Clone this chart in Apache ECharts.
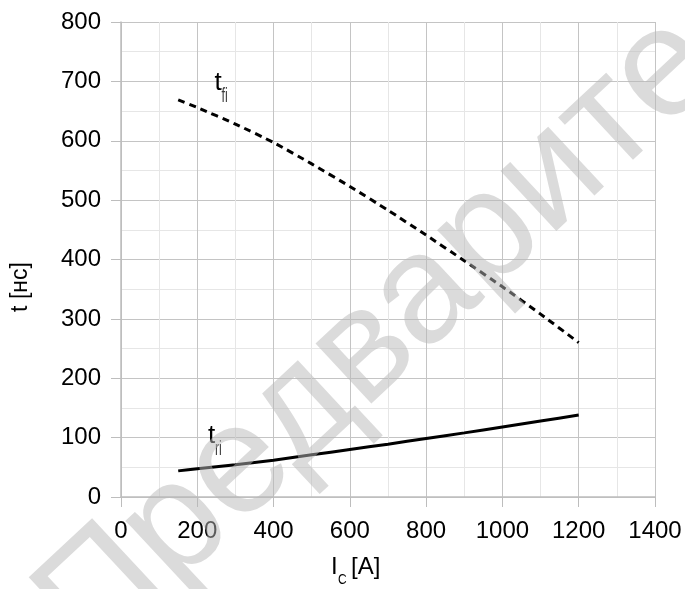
<!DOCTYPE html>
<html>
<head>
<meta charset="utf-8">
<script src="https://cdn.jsdelivr.net/npm/echarts@6/dist/echarts.min.js"></script>
<style>
html,body{margin:0;padding:0;background:#fff;}
#c{width:685px;height:589px;}
</style>
</head>
<body>
<div id="c"></div>
<script>
// Collector current I_C [A]
var currents = [150, 200, 300, 400, 500, 600, 700, 800, 900, 1000, 1100, 1200];
// fall time t_fi [ns] (dashed)
var tFi = [669, 656, 628, 597, 561, 523, 483, 441, 398, 354, 308, 260];
// rise time t_ri [ns] (solid)
var tRi = [44, 47.5, 54.5, 62, 71, 80, 89, 98.5, 108, 118, 128, 138];
var xTicks = [0, 200, 400, 600, 800, 1000, 1200, 1400];
var yTicks = [0, 100, 200, 300, 400, 500, 600, 700, 800];
var seriesNames = ['t_fi', 't_ri'];
var watermarkText = 'Предварительный просмотр';

var FONT = '"Liberation Sans", Arial, sans-serif';
var chart = echarts.init(document.getElementById('c'), null, {renderer: 'canvas'});

function pairs(xs, ys) { return xs.map(function (x, i) { return [x, ys[i]]; }); }
function plain(v) { return String(v); }

var axisGray = '#bdbdbd';
chart.setOption({
  animation: false,
  backgroundColor: '#ffffff',
  grid: {left: 121, right: 30, top: 22, bottom: 92, containLabel: false},
  xAxis: {
    type: 'value', min: xTicks[0], max: xTicks[xTicks.length - 1], interval: 200,
    axisLine: {show: true, lineStyle: {color: axisGray, width: 1.5}},
    axisTick: {show: true, length: 10, lineStyle: {color: axisGray, width: 1}},
    axisLabel: {color: '#000', fontSize: 24, fontFamily: FONT, margin: 22, formatter: plain},
    splitLine: {show: true, lineStyle: {color: '#c4c4c4', width: 1}},
    minorTick: {show: false, splitNumber: 2},
    minorSplitLine: {show: true, lineStyle: {color: '#e6e6e6', width: 1}}
  },
  yAxis: {
    type: 'value', min: yTicks[0], max: yTicks[yTicks.length - 1], interval: 100,
    axisLine: {show: true, lineStyle: {color: axisGray, width: 1.5}},
    axisTick: {show: true, length: 10, lineStyle: {color: axisGray, width: 1}},
    axisLabel: {color: '#000', fontSize: 24, fontFamily: FONT, margin: 20, formatter: plain},
    splitLine: {show: true, lineStyle: {color: '#c4c4c4', width: 1}},
    minorTick: {show: false, splitNumber: 2},
    minorSplitLine: {show: true, lineStyle: {color: '#e6e6e6', width: 1}}
  },
  series: [
    {
      name: seriesNames[0], type: 'line', data: pairs(currents, tFi),
      showSymbol: false, smooth: 0.2,
      lineStyle: {color: '#000', width: 3, type: [7, 5]}
    },
    {
      name: seriesNames[1], type: 'line', data: pairs(currents, tRi),
      showSymbol: false, smooth: 0.2,
      lineStyle: {color: '#000', width: 3}
    }
  ]
});

// label anchors in data coordinates (baseline-left of the "t")
var fiAnchor = chart.convertToPixel({gridIndex: 0}, [245, 682]);
var riAnchor = chart.convertToPixel({gridIndex: 0}, [228, 87.5]);

function curveLabel(anchor, sub) {
  return [
    {type: 'text', x: anchor[0], y: anchor[1] - 9, z: 50, silent: true,
     style: {text: 't', font: '26px ' + FONT, fill: '#000', align: 'left', verticalAlign: 'middle'}},
    {type: 'text', x: anchor[0] + 7, y: anchor[1] + 4, scaleX: 0.62, z: 50, silent: true,
     style: {text: sub, font: '20px ' + FONT, fill: '#3a3a3a', align: 'left', verticalAlign: 'middle'}}
  ];
}

var graphics = [].concat(
  curveLabel(fiAnchor, 'fi'),
  curveLabel(riAnchor, 'ri'),
  [
    // y axis name
    {type: 'text', x: 21, y: 287, rotation: Math.PI / 2, silent: true,
     style: {text: 't [нс]', font: '23px ' + FONT, fill: '#000', align: 'center', verticalAlign: 'middle'}},
    // x axis name: I_C [A]
    {type: 'text', x: 331, y: 567, silent: true,
     style: {text: 'I', font: '24px ' + FONT, fill: '#000', align: 'left', verticalAlign: 'middle'}},
    {type: 'text', x: 338, y: 580, silent: true, scaleX: 0.8,
     style: {text: 'C', font: '15px ' + FONT, fill: '#000', align: 'left', verticalAlign: 'middle'}},
    {type: 'text', x: 351, y: 567, silent: true,
     style: {text: '[A]', font: '24px ' + FONT, fill: '#000', align: 'left', verticalAlign: 'middle'}},
    // watermark
    {type: 'text', x: 100, y: 672, rotation: 43 * Math.PI / 180, z: 100, silent: true,
     style: {x: 0, y: -54, text: watermarkText, font: '155px ' + FONT,
             fill: 'rgba(184,184,184,0.5)', align: 'left', verticalAlign: 'middle'}}
  ]
);

chart.setOption({graphic: graphics});
</script>
</body>
</html>
